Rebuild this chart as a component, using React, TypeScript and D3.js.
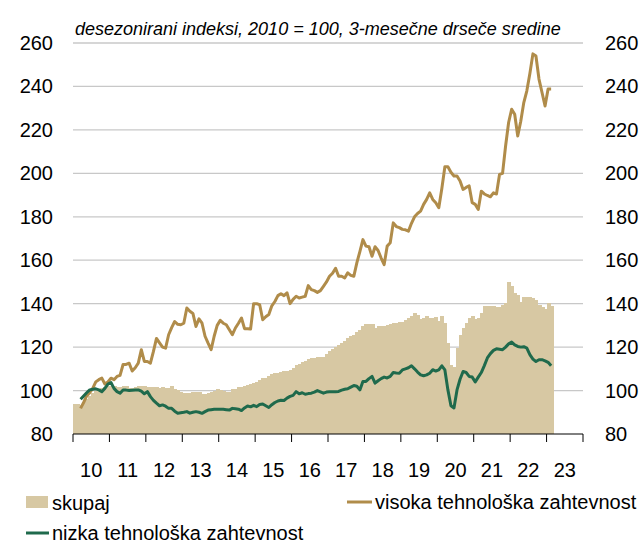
import * as d3 from "d3";
import {useEffect, useRef} from "react";

// monthly, skupaj from Jan 2010; both lines from Mar 2010 (3-month moving averages)
const years = [2010, 2011, 2012, 2013, 2014, 2015, 2016, 2017, 2018, 2019, 2020, 2021, 2022, 2023];
const yTicks = [80, 100, 120, 140, 160, 180, 200, 220, 240, 260];
const barStart = 0;
const lineStart = 2;

const skupaj = [
  93.8, 93.8, 93.5, 94.5, 96, 97.5, 99, 100, 100.5, 101, 101.5, 102,
  102.3, 102.3, 101.7, 101.7, 102, 102, 101.2, 101.2, 101.5, 102.3, 102.3, 102,
  101.7, 101.7, 101.5, 101.5, 101.3, 101.5, 101.2, 101, 102, 100.8, 100.3, 99.5,
  99, 99, 98.8, 99.2, 99.5, 99.2, 98.5, 98.5, 98.8, 99.5, 100, 100.6,
  100.3, 100, 99.5, 99.5, 100.6, 100.8, 101.5, 101.8, 102, 102.6, 103, 103.7,
  104, 105, 105.7, 106, 106.5, 107.5, 108, 108.3, 108.5, 109, 109.2, 109.5,
  110.5, 111.8, 112, 113, 113.4, 114.5, 115, 115.2, 115.4, 115.4, 115.5, 117,
  118, 119, 120, 121, 122, 123, 124.2, 125, 125.5, 127, 128, 129.5,
  130.5, 130.8, 130.5, 128.8, 129.5, 129.5, 129.6, 130, 130.5, 131, 131, 131.4,
  131.4, 132.6, 133.5, 134.2, 135.7, 135, 133, 133.5, 134.2, 133.4, 133.6, 133.8,
  131.8, 134.5, 131, 121.8, 111.8, 111, 119.5, 125.7, 129, 131, 133.4, 134.5,
  133, 133.4, 135.7, 139, 139, 138.8, 138.8, 138.5, 138.5, 139.5, 140.3, 149.8,
  148, 145, 144, 140.6, 143, 143, 143, 142.6, 141.5, 139.5, 138.5, 137.5,
  140.3, 139
];

const visoka = [
  91.8, 94.5, 97.5, 99, 101, 104, 105, 105.7, 103, 104, 105.7, 105,
  106.5, 107, 112, 112, 112.6, 109, 110.5, 112.6, 118.8, 113.4, 113.4, 112.6,
  118, 124, 122, 120, 119.5, 125.7, 129, 131.8, 130.5, 130.3, 131, 138,
  136.5, 135.5, 129.5, 133, 131, 125, 121.8, 118.8, 125, 130, 132.3, 131,
  130.3, 128, 125.7, 128.8, 131, 133.4, 128.5, 128.5, 128.3, 140, 140, 139.5,
  132.6, 134, 135, 139, 141, 143.7, 144.6, 143.7, 145, 140, 142, 143.4,
  142.6, 143, 143.4, 148.3, 146.5, 146, 145.2, 146, 148, 150, 152.6, 154,
  156.3, 152.6, 152.6, 151.8, 154.2, 153, 152.6, 158.8, 164, 169.5, 166.5, 166.2,
  161.8, 166.2, 164.5, 161, 158, 166.5, 168, 177.2, 175.5, 175, 174.2, 174,
  173.4, 177, 180, 181.5, 182.6, 185.7, 188, 191, 188, 186.5, 184.2, 193,
  203, 203, 200.5, 198.8, 198.8, 196.5, 192.6, 193.5, 194.2, 186.5, 185.7, 183.4,
  191.8, 190.5, 189.8, 189.2, 191, 190.5, 199.5, 200, 212.6, 223.4, 229.5, 227.2,
  217.2, 224, 232.6, 238, 246, 255, 254, 243.4, 237.2, 231, 238.8, 238.8
];

const nizka = [
  96, 97.5, 99, 100.3, 100.6, 100.8, 100.3, 99.5, 101, 103, 103.7, 101,
  99.5, 98.8, 100.3, 100.2, 100, 100.1, 100.2, 100.3, 99.7, 98.5, 99.5, 97.2,
  95.5, 94.2, 93, 93.4, 92.8, 91.8, 91.8, 90.5, 89.6, 89.8, 90, 90.3,
  89.6, 90, 90.3, 90, 89.5, 90.3, 91, 91.2, 91.4, 91.4, 91.4, 91.4,
  91.2, 91, 91.8, 91.6, 91.4, 90.8, 92, 92.9, 92.5, 93.2, 92.6, 93.6,
  93.8, 93, 92.2, 93.5, 94.5, 95.2, 95.5, 95.4, 96.5, 97.3, 97.8, 99.5,
  98.5, 99, 98.3, 98.6, 98.8, 99.3, 100, 99.4, 98.8, 99.3, 99.5, 99.5,
  99.5, 99.6, 100.2, 100.6, 100.8, 101.6, 102.3, 102, 100.3, 104.2, 104.2, 105.5,
  106.5, 103.4, 104.5, 105.5, 106.2, 105.8, 106.5, 108.3, 108.1, 108, 109.5, 110,
  110.5, 111.4, 110, 108.5, 107.2, 106.8, 107.2, 108, 109.6, 109, 109.5, 111.4,
  109.5, 100.3, 93, 92, 100.3, 105.2, 108.8, 108.3, 106.5, 106.2, 104, 106.2,
  108.3, 111.5, 115, 117, 118.5, 119.2, 119, 118.8, 120, 121.5, 122.3, 121,
  120.3, 120, 120.2, 119.5, 116.5, 114.5, 113.4, 114.2, 114.2, 113.7, 113, 111.4
];

const colBar = "#d7c8a3";
const colHigh = "#b08c4a";
const colLow = "#1f6a4c";
const font = "'Liberation Sans', Arial, sans-serif";

export default function App() {
  const svgRef = useRef<SVGSVGElement | null>(null);

  useEffect(() => {
    const width = 640;
    const height = 545;
    const left = 73, right = 583, top = 43, bottom = 434;

    const svg = d3.select(svgRef.current);
    svg.selectAll("*").remove();
    svg.attr("width", width).attr("height", height);

    const months = d3.range(years.length * 12);
    const x = d3.scaleBand<number>().domain(months).range([left, right]).padding(0);
    const y = d3.scaleLinear().domain([80, 260]).range([bottom, top]);

    // gridlines
    svg.append("g").selectAll("line")
        .data(yTicks.filter(t => t > 80))
        .enter().append("line")
        .attr("x1", left).attr("x2", right)
        .attr("y1", d => y(d)).attr("y2", d => y(d))
        .attr("stroke", "#c8c8c8")
        .attr("stroke-width", 1.3);

    // skupaj columns
    svg.append("g")
        .attr("shape-rendering", "crispEdges")
        .selectAll("rect")
        .data(skupaj)
        .enter().append("rect")
        .attr("x", (_, i) => x(i + barStart)!)
        .attr("width", x.bandwidth() + 1)
        .attr("y", d => y(d))
        .attr("height", d => y(80) - y(d))
        .attr("fill", colBar);

    const line = (start: number) => d3.line<number>()
        .x((_, i) => x(i + start)! + x.bandwidth() / 2)
        .y(d => y(d))
        .curve(d3.curveLinear);

    svg.append("path")
        .attr("d", line(lineStart)(visoka))
        .attr("fill", "none")
        .attr("stroke", colHigh)
        .attr("stroke-width", 3)
        .attr("stroke-linejoin", "round");

    svg.append("path")
        .attr("d", line(lineStart)(nizka))
        .attr("fill", "none")
        .attr("stroke", colLow)
        .attr("stroke-width", 3)
        .attr("stroke-linejoin", "round");

    // x axis
    svg.append("line")
        .attr("x1", left).attr("x2", right)
        .attr("y1", bottom).attr("y2", bottom)
        .attr("stroke", "#000").attr("stroke-width", 1);

    const yearX = d3.scaleLinear().domain([0, years.length]).range([left, right]);
    svg.append("g").selectAll("line")
        .data(d3.range(years.length + 1))
        .enter().append("line")
        .attr("x1", d => yearX(d)).attr("x2", d => yearX(d))
        .attr("y1", bottom).attr("y2", bottom + 8)
        .attr("stroke", "#000").attr("stroke-width", 1);

    svg.append("g").selectAll("text")
        .data(years)
        .enter().append("text")
        .attr("x", (_, i) => yearX(i + 0.5))
        .attr("y", 477)
        .attr("text-anchor", "middle")
        .attr("font-family", font)
        .attr("font-size", 20)
        .text(d => String(d).slice(2));

    // y labels, both sides
    svg.append("g").selectAll("text")
        .data(yTicks)
        .enter().append("text")
        .attr("x", 53)
        .attr("y", d => y(d) + 7)
        .attr("text-anchor", "end")
        .attr("font-family", font)
        .attr("font-size", 20)
        .text(d => d);

    svg.append("g").selectAll("text")
        .data(yTicks)
        .enter().append("text")
        .attr("x", 605)
        .attr("y", d => y(d) + 7)
        .attr("text-anchor", "start")
        .attr("font-family", font)
        .attr("font-size", 20)
        .text(d => d);

    svg.append("text")
        .attr("x", 75).attr("y", 35)
        .attr("font-family", font)
        .attr("font-size", 18)
        .attr("font-style", "italic")
        .text("desezonirani indeksi, 2010 = 100, 3-mesečne drseče sredine");

    // legend
    const lg = svg.append("g").attr("font-family", font).attr("font-size", 20);
    lg.append("rect").attr("x", 26).attr("y", 496).attr("width", 22).attr("height", 12).attr("fill", colBar);
    lg.append("text").attr("x", 52).attr("y", 510).text("skupaj");
    lg.append("line").attr("x1", 347).attr("x2", 372).attr("y1", 502).attr("y2", 502)
        .attr("stroke", colHigh).attr("stroke-width", 3);
    lg.append("text").attr("x", 375).attr("y", 509).text("visoka tehnološka zahtevnost");
    lg.append("line").attr("x1", 26).attr("x2", 49).attr("y1", 533).attr("y2", 533)
        .attr("stroke", colLow).attr("stroke-width", 3);
    lg.append("text").attr("x", 52).attr("y", 540).text("nizka tehnološka zahtevnost");
  }, []);

  return (
      <svg ref={svgRef} style={{position: "absolute", left: 0, top: 0}}></svg>
  );
};
